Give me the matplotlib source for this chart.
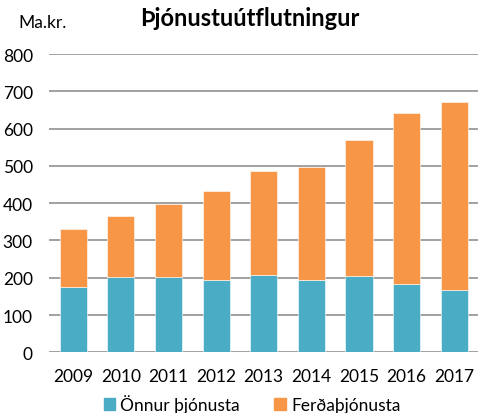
import matplotlib
matplotlib.use("Agg")
import matplotlib.pyplot as plt
from matplotlib.patches import Patch

years = ["2009", "2010", "2011", "2012", "2013", "2014", "2015", "2016", "2017"]
onnur = [175, 203, 201, 195, 208, 193, 204, 182, 167]
totals = [331, 366, 398, 434, 485, 498, 570, 643, 671]
ferda = [t - o for t, o in zip(totals, onnur)]

blue = "#4BACC6"
orange = "#F79646"

plt.rcParams['font.family'] = ['Lato', 'DejaVu Sans']

fig = plt.figure(figsize=(4.8, 4.14), dpi=100)
ax = fig.add_axes([0.103, 0.1466, 0.893, 0.7204])

x = list(range(len(years)))
ax.bar(x, onnur, width=0.57, color=blue, edgecolor="white", linewidth=0.4, zorder=3)
ax.bar(x, ferda, bottom=onnur, width=0.57, color=orange, edgecolor="white", linewidth=0.4, zorder=3)

ax.set_xlim(-0.5, len(years) - 0.5)
ax.set_ylim(0, 800)
ax.set_yticks(range(0, 801, 100))
ax.set_xticks(x)
ax.set_xticklabels(years)
ax.yaxis.grid(True, color="#878787", linewidth=1.1, zorder=0)
for s in ax.spines.values():
    s.set_visible(False)
ax.tick_params(axis="both", length=0, labelsize=12.5, colors="black")
ax.tick_params(axis="y", pad=12)
ax.tick_params(axis="x", pad=11)

fig.text(0.52, 0.955, "Þjónustuútflutningur", ha="center", va="center",
         fontsize=17, fontweight="bold")
fig.text(0.038, 0.945, "Ma.kr.", ha="left", va="center", fontsize=12.5)

handles = [Patch(color=blue, label="Önnur þjónusta"), Patch(color=orange, label="Ferðaþjónusta")]
fig.legend(handles=handles, loc="center", bbox_to_anchor=(0.525, 0.022), ncol=2,
           frameon=False, fontsize=12.5, handlelength=0.65, handleheight=0.65,
           handletextpad=0.3, columnspacing=2.0, borderaxespad=0)

fig.savefig("out.png", dpi=100)
